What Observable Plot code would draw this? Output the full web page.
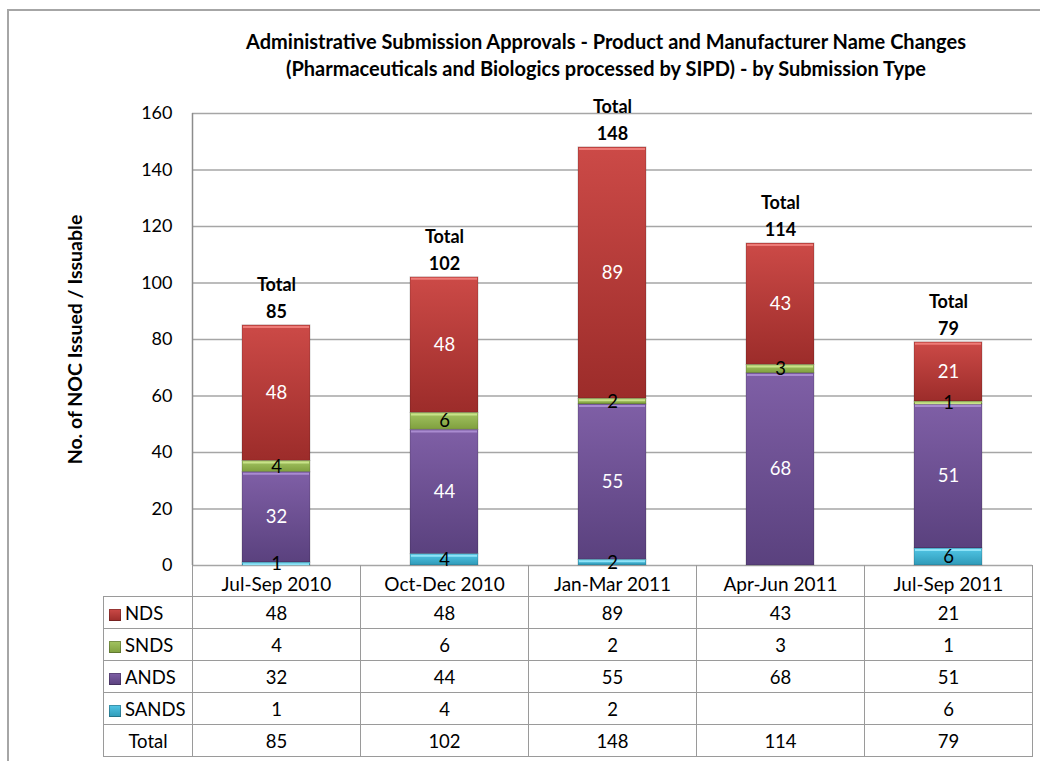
<!DOCTYPE html>
<html>
<head>
<meta charset="utf-8">
<script src="https://cdn.jsdelivr.net/npm/d3@7"></script>
<script src="https://cdn.jsdelivr.net/npm/@observablehq/plot@0.6"></script>
<style>
  body { margin: 0; background: white; font-family: Lato, "Open Sans", sans-serif; }
  #wrap { position: relative; width: 1040px; height: 761px; overflow: hidden; }
  #border { position: absolute; left: 7px; top: 9px; width: 1100px; height: 800px;
            border-left: 2px solid #a6a6a6; border-top: 2px solid #a6a6a6; }
  #title { position: absolute; left: 156px; width: 900px; top: 28px; text-align: center;
           font-weight: bold; font-size: 20px; line-height: 27px; color: #000; }
  #chart { position: absolute; left: 0; top: 0; }
  #tbl { position: absolute; left: 103px; top: 565px; border-collapse: collapse; table-layout: fixed;
         font-size: 18.5px; color: #000; }
  #tbl td { border: 1px solid #9a9a9a; text-align: center; padding: 0; height: 31px; background: transparent; }
  #tbl tr.head td { height: 31px; border-top: none; }
  #tbl tr.head td.blank { border: none; }
  #tbl td.lab { text-align: left; padding-left: 5px; white-space: nowrap; }
  #tbl td.lab.total { text-align: center; padding-left: 0; }
  .sw { display: inline-block; width: 12px; height: 12px; margin-right: 4px; vertical-align: -1px;
        box-shadow: inset 0 0 0 1px rgba(0,0,0,0.25); }
</style>
</head>
<body>
<div id="wrap">
  <div id="border"></div>
  <div id="title">Administrative Submission Approvals - Product and Manufacturer Name Changes<br>(Pharmaceuticals and Biologics processed by SIPD) - by Submission Type</div>
</div>
<script>
// ---- data ----
const categories = ["Jul-Sep 2010", "Oct-Dec 2010", "Jan-Mar 2011", "Apr-Jun 2011", "Jul-Sep 2011"];
const seriesNames = ["NDS", "SNDS", "ANDS", "SANDS"];
const NDS   = [48, 48, 89, 43, 21];
const SNDS  = [4, 6, 2, 3, 1];
const ANDS  = [32, 44, 55, 68, 51];
const SANDS = [1, 4, 2, null, 6];
const totals = [85, 102, 148, 114, 79];
const yTicks = [0, 20, 40, 60, 80, 100, 120, 140, 160];
const yLabel = "No. of NOC Issued / Issuable";

// ---- styling ----
const colTop = {NDS: "#cc4a47", SNDS: "#a3c461", ANDS: "#7f5fa6", SANDS: "#52c6e6"};
const colBot = {NDS: "#9c2c2a", SNDS: "#7f9f3e", ANDS: "#5a417e", SANDS: "#2f9ab8"};
const colHi  = {NDS: "#ee7b77", SNDS: "#c8e289", ANDS: "#a98bd0", SANDS: "#8fe3f7"};
const labelColor = {NDS: "white", SNDS: "black", ANDS: "white", SANDS: "black"};

const valuesBy = {NDS, SNDS, ANDS, SANDS};
const rows = [];
for (const s of seriesNames) {
  categories.forEach((c, i) => {
    const v = valuesBy[s][i];
    if (v != null) rows.push({category: c, series: s, value: v});
  });
}
const totalRows = categories.map((c, i) => ({category: c, total: totals[i]}));
const stackOrder = ["SANDS", "ANDS", "SNDS", "NDS"];

const chart = Plot.plot({
  width: 1040,
  height: 597,
  marginLeft: 192,
  marginRight: 8,
  marginTop: 113,
  marginBottom: 32,
  style: {background: "transparent", fontFamily: "Lato, 'Open Sans', sans-serif", fontSize: "18px", color: "#000"},
  x: {domain: categories, padding: 0, label: null, tickSize: 0, tickPadding: 12},
  y: {domain: [0, 160], ticks: yTicks, label: null, tickSize: 0, tickPadding: 20},
  color: {domain: seriesNames, range: seriesNames.map(s => `url(#g${s})`)},
  marks: [
    Plot.gridY(yTicks, {stroke: "#a6a6a6", strokeOpacity: 1, strokeWidth: 1.5}),
    Plot.barY(rows, Plot.stackY({x: "category", y: "value", z: "series", order: stackOrder,
      fill: "series", insetLeft: 50, insetRight: 50, stroke: "rgba(0,0,0,0.18)", strokeWidth: 1})),
    Plot.tickY(rows, Plot.stackY2({x: "category", y: "value", z: "series", order: stackOrder,
      stroke: d => colHi[d.series], strokeWidth: 2, insetLeft: 51, insetRight: 51, dy: 1.5})),
    Plot.ruleX([0], {x: () => categories[0], dx: -84, y1: 0, y2: 160, stroke: "#8c8c8c", strokeWidth: 1.5}),
    Plot.text(rows, Plot.stackY({x: "category", y: "value", z: "series", order: stackOrder,
      text: d => String(d.value), fill: d => labelColor[d.series], fontSize: 18.5})),
    Plot.text(totalRows, {x: "category", y: "total", text: d => "Total\n" + d.total,
      lineAnchor: "bottom", lineHeight: 1.5, dy: -7, fontWeight: "bold", fontSize: 18}),
    Plot.text([yLabel], {text: d => d, frameAnchor: "left", textAnchor: "middle", rotate: -90, dx: -117,
      fontWeight: "bold", fontSize: 19.5})
  ]
});
chart.id = "chart";
chart.querySelectorAll('[aria-label="x-axis tick label"] text').forEach(t => t.setAttribute("font-size", "19"));

// gradients for the bars
const defs = document.createElementNS("http://www.w3.org/2000/svg", "defs");
defs.innerHTML = seriesNames.map(s =>
  `<linearGradient id="g${s}" x1="0" y1="0" x2="0" y2="1">
     <stop offset="0" stop-color="${colTop[s]}"/>
     <stop offset="1" stop-color="${colBot[s]}"/>
   </linearGradient>`).join("");
chart.insertBefore(defs, chart.firstChild);

const wrap = document.getElementById("wrap");
wrap.appendChild(chart);

// data table below the plot
const tbl = document.createElement("table");
tbl.id = "tbl";
const colg = document.createElement("colgroup");
colg.innerHTML = `<col style="width:89px">` + categories.map(() => `<col style="width:168px">`).join("");
tbl.appendChild(colg);
const head = document.createElement("tr");
head.className = "head";
head.innerHTML = `<td class="blank"></td>` + categories.map(() => `<td></td>`).join("");
tbl.appendChild(head);
for (const s of seriesNames) {
  const tr = document.createElement("tr");
  tr.innerHTML = `<td class="lab"><span class="sw" style="background:linear-gradient(${colTop[s]},${colBot[s]})"></span>${s}</td>` +
    valuesBy[s].map(v => `<td>${v == null ? "" : v}</td>`).join("");
  tbl.appendChild(tr);
}
const trT = document.createElement("tr");
trT.innerHTML = `<td class="lab total">Total</td>` + totals.map(v => `<td>${v}</td>`).join("");
tbl.appendChild(trT);
wrap.appendChild(tbl);
</script>
</body>
</html>
